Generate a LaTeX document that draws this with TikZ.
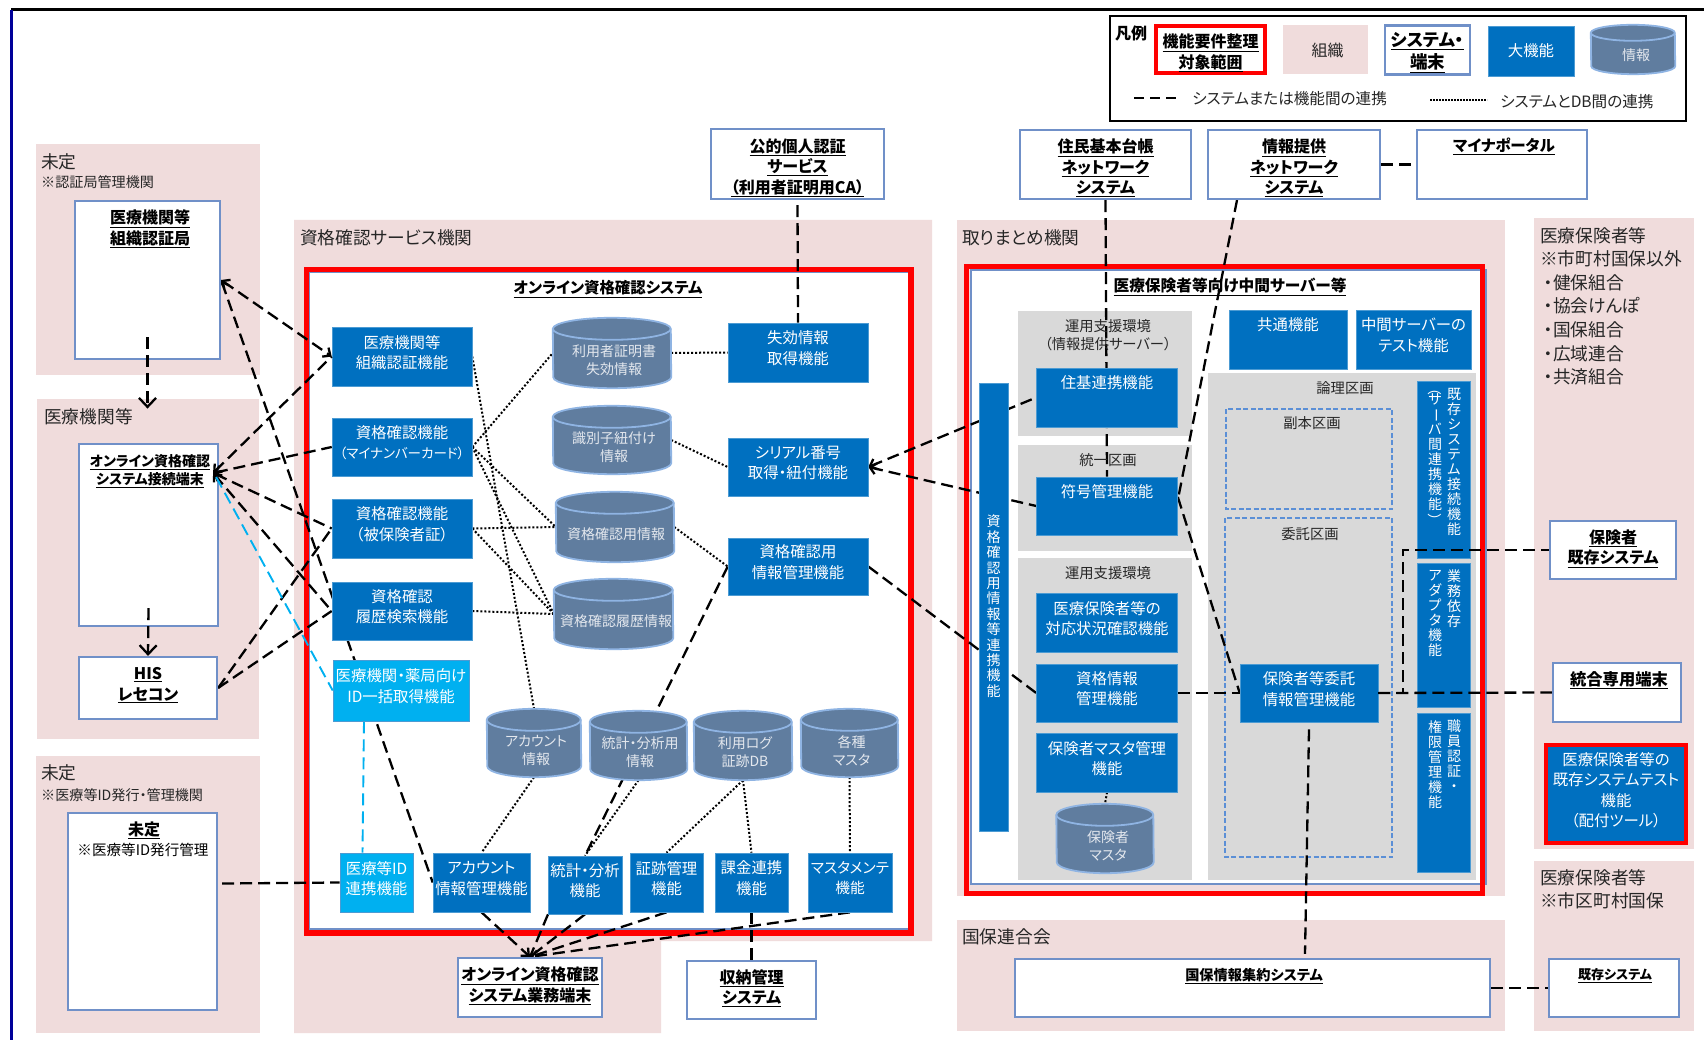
\documentclass[tikz,border=0pt]{standalone}
\usepackage{fontspec}
\setmainfont{Noto Sans CJK JP}[RawFeature={+palt}]
\usetikzlibrary{arrows.meta}

\definecolor{panelpink}{HTML}{F0DCDC}
\definecolor{funcblue}{HTML}{0070C0}
\definecolor{lightblue}{HTML}{00B0F0}
\definecolor{panelgrey}{HTML}{D9D9D9}
\definecolor{sysedge}{HTML}{7090C8}
\definecolor{dbfill}{HTML}{607D9F}
\definecolor{dbedge}{HTML}{8FB4E3}
\definecolor{zoneedge}{HTML}{5B8FD6}
\definecolor{dbtext}{HTML}{E4E8EE}

\newcommand{\vlong}{\raisebox{11pt}[11pt][3pt]{\rotatebox{-90}{ー}}}
\newcommand{\vparen}[1]{\raisebox{6pt}[6pt][1pt]{\rotatebox{-90}{#1}}}
\newcommand{\topgap}{\rule{0pt}{21pt}}
% drum of a database around its named node: name, x radius, y radius
\newcommand{\dbdrum}[3]{
    \draw[dbshape] ([yshift=-#3pt]#1.north west) arc[start angle=180,end angle=0,x radius=#2pt,y radius=#3pt]
        -- ([yshift=#3pt]#1.south east) arc[start angle=0,end angle=-180,x radius=#2pt,y radius=#3pt] -- cycle;
    \draw[dbshape,fill=none] ([yshift=-#3pt]#1.north west) arc[start angle=180,end angle=360,x radius=#2pt,y radius=#3pt];
}

\pgfdeclarelayer{panel}
\pgfdeclarelayer{wire}
\pgfsetlayers{panel,wire,main}

\tikzset{
    wh/.style 2 args={minimum width=#1pt, minimum height=#2pt},
    nudge/.style={execute at end node={\rule[-#1pt]{0pt}{#1pt}}},
    funcplain/.style={rectangle, fill=funcblue, draw=funcblue!70!white, line width=0.6pt, inner sep=0pt, text=white, align=center, font=\fontsize{15.4}{20.5}\selectfont},
    func/.style={funcplain, nudge=9.5},
    funclight/.style={func, fill=lightblue},
    sysbox/.style={rectangle, fill=white, draw=sysedge, line width=2.2pt, inner sep=0pt, align=center, font=\bfseries\fontsize{16}{20.5}\selectfont},
    systxt/.style={inner sep=0pt, align=center, font=\bfseries\fontsize{16}{20.5}\selectfont},
    dbnode/.style={rectangle, inner sep=0pt},
    dbshape/.style={fill=dbfill, draw=dbedge, line width=1.8pt},
    dbtxt/.style={inner sep=0pt, text=dbtext, align=center, font=\fontsize{14}{18}\selectfont},
    lbl/.style={inner sep=0pt, anchor=west, align=left, text=black!85, font=\fontsize{17.7}{23.6}\selectfont},
    lblsmall/.style={inner sep=0pt, anchor=west, text=black!85, font=\fontsize{14.1}{18}\selectfont},
    zonetxt/.style={inner sep=0pt, align=center, text=black!85, font=\fontsize{14.3}{18}\selectfont},
    vtxt/.style={inner sep=0pt, anchor=north, align=center, text=white, font=\fontsize{14}{15}\selectfont},
    link/.style={line width=2.3pt, dash pattern=on 12pt off 6pt, >={Straight Barb[length=6pt,width=11pt]}},
    linkbig/.style={link, >={Straight Barb[length=9pt,width=17pt]}},
    linkcyan/.style={link, line width=1.9pt, draw=lightblue},
    dbwire/.style={line width=2pt, dash pattern=on 2pt off 2pt},
    zone/.style={draw=zoneedge, line width=1.6pt, dash pattern=on 5pt off 2.5pt},
}

\begin{document}
\begin{tikzpicture}[x=1pt,y=-1pt]
    \useasboundingbox (0,0) rectangle (1704,1040);

    \begin{pgfonlayer}{panel}
        \fill[white] (0,0) rectangle (1704,1040);
        \draw[line width=3pt,black] (11,10) -- (1704,10);
        \draw[line width=3pt,blue!60!black] (11,10) -- (11,1040);
        % organisations
        \fill[panelpink] (36,144) rectangle (260,375);
        \fill[panelpink] (37,399) rectangle (259,739);
        \fill[panelpink] (36,756) rectangle (260,1033);
        \fill[panelpink] (294,220) -| (932,941) -| (661,1033) -| cycle;
        \fill[panelpink] (957,220) rectangle (1505,896);
        \fill[panelpink] (957,920) rectangle (1505,1031);
        \fill[panelpink] (1534,218) rectangle (1694,849);
        \fill[panelpink] (1534,861) rectangle (1694,1031);
        % systems in the scope
        \draw[fill=white,draw=sysedge,line width=1.6pt] (309,272) rectangle (909,929);
        \draw[red,line width=5.5pt] (306.5,269.5) rectangle (911,933);
        \draw[fill=white,draw=sysedge,line width=1.6pt] (971,270) rectangle (1486,884);
        \draw[red,line width=5pt] (966.5,267) rectangle (1482.5,893);
        % sections
        \fill[panelgrey] (1018,311) rectangle (1192,436);
        \fill[panelgrey] (1018,445) rectangle (1192,551);
        \fill[panelgrey] (1018,558) rectangle (1192,880);
        \fill[panelgrey] (1208,373) rectangle (1476,880);
        \draw[zone] (1226,409) rectangle (1392,509);
        \draw[zone] (1225,518) rectangle (1392,857);
        % legend
        \draw[fill=white,line width=2.5pt] (1110,16) rectangle (1686,121);
    \end{pgfonlayer}

    % legend
    \node[systxt] (lgdtitle) at (1131,33) {凡例};
    \node[sysbox, wh={109}{47}, draw=red, line width=4pt] (lgdscope) at (1210.5,49.5) {\topgap\underline{機能要件整理}\\\underline{対象範囲}};
    \node[rectangle, fill=panelpink, wh={85}{49}, inner sep=0pt, font=\fontsize{16}{20}\selectfont, text=black!85] (lgdorg) at (1325.5,50) {\hspace*{4pt}組織};
    \node[sysbox, wh={85}{49}, font=\bfseries\fontsize{17.5}{20.5}\selectfont] (lgdsys) at (1427.5,50) {\rule{0pt}{19pt}\underline{システム・}\\[2pt]\underline{端末}};
    \node[funcplain, wh={86}{50}] (lgdfunc) at (1531,51) {大機能};
    \node[dbnode, wh={84}{49}] (lgddb) at (1633,49.5) {};
    \dbdrum{lgddb}{42}{8}
    \node[dbtxt] (lgddbtxt) at (1636,55) {情報};
    \coordinate (lgdlinka) at (1134,98);
    \coordinate (lgdlinkb) at (1180,98);
    \draw[line width=2.3pt, dash pattern=on 10pt off 6pt] (lgdlinka) -- (lgdlinkb);
    \node[lblsmall, font=\fontsize{15.6}{18}\selectfont] (lgdlinktxt) at (1192,99) {システムまたは機能間の連携};
    \coordinate (lgddota) at (1430,100);
    \coordinate (lgddotb) at (1487,100);
    \draw[line width=1.8pt, dash pattern=on 1.6pt off 1.4pt] (lgddota) -- (lgddotb);
    \node[lblsmall, font=\fontsize{15.6}{18}\selectfont] (lgddottxt) at (1500,102) {システムとDB間の連携};

    % organisation labels
    \node[lbl] (lblca) at (41,162) {未定};
    \node[lblsmall] (lblcasub) at (41,182) {※認証局管理機関};
    \node[lbl] (lblmed) at (44,417) {医療機関等};
    \node[lbl] (lblid) at (41,773) {未定};
    \node[lblsmall] (lblidsub) at (41,795) {※医療等ID発行・管理機関};
    \node[lbl] (lblsvc) at (300,238) {資格確認サービス機関};
    \node[lbl] (lblhub) at (962,238) {取りまとめ機関};
    \node[lbl] (lblkokuho) at (962,937) {国保連合会};
    \node[lbl, anchor=north west] (lblins) at (1540,227) {医療保険者等\\※市町村国保以外\\\ ・健保組合\\\ ・協会けんぽ\\\ ・国保組合\\\ ・広域連合\\\ ・共済組合};
    \node[lbl, anchor=north west] (lblinsb) at (1540,869) {医療保険者等\\※市区町村国保};

    % outside systems
    \node[sysbox, wh={145}{158}] (caauth) at (147.5,280) {};
    \node[systxt] (caauthtxt) at (150,229) {\underline{医療機関等}\\\underline{組織認証局}};
    \node[sysbox, wh={139}{182}] (term) at (148.5,535) {};
    \node[systxt, font=\bfseries\fontsize{14}{18}\selectfont] (termtxt) at (150,471) {\underline{オンライン資格確認}\\\underline{システム接続端末}};
    \node[sysbox, wh={138}{62}, nudge=8.5] (his) at (148,688) {\underline{HIS}\\\underline{レセコン}};
    \node[sysbox, wh={149}{197}] (idmgr) at (142.5,911.5) {};
    \node[systxt] (idmgrtxt) at (144,830) {\underline{未定}};
    \node[zonetxt, text=black, font=\fontsize{14.6}{18}\selectfont] (idmgrsub) at (143,850) {※医療等ID発行管理};
    \node[sysbox, wh={144}{59}, nudge=6.5] (bizterm) at (530,987.5) {\underline{オンライン資格確認}\\\underline{システム業務端末}};
    \node[sysbox, wh={129}{58}, nudge=6.5] (shuno) at (751.5,990) {\underline{収納管理}\\\underline{システム}};
    \node[sysbox, wh={173}{70}] (pki) at (797.5,164) {\topgap\underline{公的個人認証}\\\underline{サービス}\\\underline{（利用者証明用CA）}};
    \node[sysbox, wh={171}{69}] (jukinet) at (1105.5,164.5) {\topgap\underline{住民基本台帳}\\\underline{ネットワーク}\\\underline{システム}};
    \node[sysbox, wh={172}{69}] (infonet) at (1294,164.5) {\topgap\underline{情報提供}\\\underline{ネットワーク}\\\underline{システム}};
    \node[sysbox, wh={170}{69}] (portal) at (1502,164.5) {};
    \node[systxt, font=\bfseries\fontsize{15.5}{18}\selectfont] (portaltxt) at (1504,146) {\underline{マイナポータル}};
    \node[sysbox, wh={126}{58}, nudge=6.5] (legacy) at (1613,550) {\underline{保険者}\\\underline{既存システム}};
    \node[sysbox, wh={128}{59}] (integ) at (1617,692.5) {};
    \node[systxt, font=\bfseries\fontsize{16.3}{18}\selectfont] (integtxt) at (1619,680) {\underline{統合専用端末}};
    \node[sysbox, wh={475}{58}] (kokuho) at (1252.5,988) {};
    \node[systxt, font=\bfseries\fontsize{14.2}{18}\selectfont] (kokuhotxt) at (1254,976) {\underline{国保情報集約システム}};
    \node[sysbox, wh={130}{58}] (kizon) at (1614,988) {};
    \node[systxt, font=\bfseries\fontsize{13}{18}\selectfont] (kizontxt) at (1615,976) {\underline{既存システム}};

    % online system
    \node[systxt, font=\bfseries\fontsize{15.4}{18}\selectfont] (onlinetxt) at (608,289) {\underline{オンライン資格確認システム}};
    \node[func, wh={140}{59}] (orgauth) at (402,356.5) {医療機関等\\組織認証機能};
    \node[func, wh={140}{58}] (mnacard) at (402,447) {資格確認機能\\{\fontsize{13.5}{20.5}\selectfont（マイナンバーカード）}};
    \node[func, wh={140}{59}] (hihoken) at (402,528.5) {資格確認機能\\（被保険者証）};
    \node[func, wh={140}{58}] (histsearch) at (402,611) {資格確認\\履歴検索機能};
    \node[funclight, wh={136}{61}] (idbulk) at (401,690.5) {医療機関・薬局向け\\ID一括取得機能};
    \node[func, wh={140}{59}] (revoke) at (798,352.5) {失効情報\\取得機能};
    \node[func, wh={140}{58}] (serial) at (798,467) {シリアル番号\\取得・紐付機能};
    \node[func, wh={140}{57}] (elig) at (798,566.5) {資格確認用\\情報管理機能};
    \node[funclight, wh={73}{59}] (medid) at (376.5,882.5) {医療等ID\\連携機能};
    \node[func, wh={97}{59}] (acctmgmt) at (481.5,882.5) {アカウント\\情報管理機能};
    \node[func, wh={74}{58}] (statfn) at (585,885) {統計・分析\\機能};
    \node[func, wh={73}{59}] (trail) at (666.5,882.5) {証跡管理\\機能};
    \node[func, wh={73}{59}] (billing) at (751.5,882.5) {課金連携\\機能};
    \node[func, wh={84}{59}, font=\fontsize{14.7}{20.5}\selectfont] (mastmnt) at (850,882.5) {マスタメンテ\\機能};

    \node[dbnode, wh={118}{70}] (certdb) at (612,353) {};
    \dbdrum{certdb}{59}{11}
    \node[dbtxt] (certtxt) at (614,360) {利用者証明書\\失効情報};
    \node[dbnode, wh={118}{68}] (iddb) at (612,440) {};
    \dbdrum{iddb}{59}{11}
    \node[dbtxt] (idtxt) at (614,447) {識別子紐付け\\情報};
    \node[dbnode, wh={118}{70}] (qualdb) at (615,527) {};
    \dbdrum{qualdb}{59}{11}
    \node[dbtxt] (qualtxt) at (616,534) {資格確認用情報};
    \node[dbnode, wh={119}{70}] (histdb) at (613.5,614) {};
    \dbdrum{histdb}{59.5}{11}
    \node[dbtxt] (histtxt) at (616,621) {資格確認履歴情報};
    \node[dbnode, wh={94}{68}] (acctdb) at (534,743) {};
    \dbdrum{acctdb}{47}{11}
    \node[dbtxt] (accttxt) at (536,750.5) {アカウント\\情報};
    \node[dbnode, wh={97}{69}] (statdb) at (638.5,745.5) {};
    \dbdrum{statdb}{48.5}{11}
    \node[dbtxt] (stattxt) at (640,752) {統計・分析用\\情報};
    \node[dbnode, wh={98}{69}] (logdb) at (743,745.5) {};
    \dbdrum{logdb}{49}{11}
    \node[dbtxt] (logtxt) at (745,752.5) {利用ログ\\証跡DB};
    \node[dbnode, wh={97}{68}] (mastdb) at (849.5,743) {};
    \dbdrum{mastdb}{48.5}{11}
    \node[dbtxt] (masttxt) at (851.5,750.5) {各種\\マスタ};

    % intermediate server
    \node[systxt, font=\bfseries\fontsize{15.7}{18}\selectfont] (hubtxt) at (1230,287) {\underline{医療保険者等向け中間サーバー等}};
    \node[zonetxt] (opstxt) at (1108,335) {運用支援環境\\（情報提供サーバー）};
    \node[zonetxt] (unitxt) at (1108,460) {統一区画};
    \node[zonetxt] (opsbtxt) at (1108,573) {運用支援環境};
    \node[zonetxt] (logictxt) at (1345,388) {論理区画};
    \node[zonetxt] (copytxt) at (1312,423) {副本区画};
    \node[zonetxt] (consigntxt) at (1310,534) {委託区画};
    \node[func, wh={141}{59}] (jukifn) at (1107,397.5) {住基連携機能\\\ };
    \node[func, wh={141}{58}] (symfn) at (1107,506) {符号管理機能\\\ };
    \node[func, wh={141}{59}] (statusfn) at (1107,622.5) {医療保険者等の\\対応状況確認機能};
    \node[func, wh={141}{58}] (qualfn) at (1107,693) {資格情報\\管理機能};
    \node[func, wh={141}{59}] (mastfn) at (1107,762.5) {保険者マスタ管理\\機能};
    \node[dbnode, wh={97}{69}] (insdb) at (1105,838.5) {};
    \dbdrum{insdb}{48.5}{11}
    \node[dbtxt] (instxt) at (1108,846) {保険者\\マスタ};
    \node[func, wh={118}{59}] (commonfn) at (1288,339.5) {共通機能\\\ };
    \node[func, wh={115}{59}] (testfn) at (1413.5,339.5) {中間サーバーの\\テスト機能};
    \node[func, wh={138}{58}] (consign) at (1309,693) {保険者等委託\\情報管理機能};
    \node[func, wh={140}{98}, draw=red, line width=4pt] (disttool) at (1616,794) {医療保険者等の\\既存システムテスト\\機能\\（配付ツール）};

    % vertical bars
    \node[funcplain, wh={29}{448}] (linkbar) at (993.5,607) {};
    \node[vtxt, font=\fontsize{14}{15.4}\selectfont] (linkbartxt) at (993.5,515) {資\\格\\確\\認\\用\\情\\報\\等\\連\\携\\機\\能};
    \node[funcplain, wh={53}{177}] (sysconn) at (1444,469.5) {};
    \node[vtxt] (sysconna) at (1454,388) {既\\存\\シ\\ス\\テ\\ム\\接\\続\\機\\能};
    \node[vtxt] (sysconnb) at (1435,388) {\vparen{（}\\[-5pt]サ\\\vlong\\バ\\間\\連\\携\\機\\能\\[-4pt]\vparen{）}};
    \node[funcplain, wh={53}{144}] (adapter) at (1444,635) {};
    \node[vtxt] (adaptera) at (1454,570) {業\\務\\依\\存};
    \node[vtxt] (adapterb) at (1435,570) {ア\\ダ\\プ\\タ\\機\\能};
    \node[funcplain, wh={53}{159}] (staffauth) at (1444,792.5) {};
    \node[vtxt] (staffautha) at (1454,720) {職\\員\\認\\証\\・};
    \node[vtxt] (staffauthb) at (1435,720) {権\\限\\管\\理\\機\\能};

    \begin{pgfonlayer}{wire}
        % dashed connectors
        \draw[link,<->] (caauth.east) -- (orgauth.west);
        \draw[link,<-] (caauth.east) -- (acctmgmt.west);
        \draw[link] (his.east) -- (hihoken.west);
        \draw[link] (his.east) -- (histsearch.west);
        \draw[linkcyan] ([xshift=-37pt]idbulk.south) -- ([xshift=-14pt]medid.north);
        \draw[link] ([xshift=4pt,yshift=28pt]idmgr.east) -- (medid.west);
        \draw[link] ([yshift=-5pt]pki.south) -- (revoke.north);
        \draw[link,<-] (serial.east) -- (jukifn.west);
        \draw[link,<-] (serial.east) -- (symfn.west);
        \draw[link] (elig.east) -- (qualfn.west);
        \draw[link] (elig.west) -- (statfn.north);
        \draw[link] (jukinet.south) -- (symfn.north);
        \draw[link] ([xshift=-57pt]infonet.south) -- ([yshift=6pt]symfn.east);
        \draw[link] ([yshift=9pt]symfn.east) -- (consign.west);
        \draw[link] (qualfn.east) -- (consign.west);
        \draw[link] (infonet.east) -- (portal.west);
        \draw[link] (kokuho.east) -- (kizon.west);
        \draw[link] (billing.south) -- (shuno.north);
        \draw[link,->] (acctmgmt.south) -- (bizterm.north);
        \draw[link] ([xshift=-37pt]statfn.south) -- (bizterm.north);
        \draw[link] (statfn.south) -- (bizterm.north);
        \draw[link] (trail.south) -- (bizterm.north);
        \draw[link,->] (mastmnt.south) -- (bizterm.north);
        % dotted connectors to the databases
        \draw[dbwire] (orgauth.east) -- (acctdb.north);
        \draw[dbwire] (mnacard.east) -- (certdb.west);
        \draw[dbwire] (mnacard.east) -- (qualdb.west);
        \draw[dbwire] (mnacard.east) -- (histdb.west);
        \draw[dbwire] (hihoken.east) -- (qualdb.west);
        \draw[dbwire] (hihoken.east) -- (histdb.west);
        \draw[dbwire] (histsearch.east) -- (histdb.west);
        \draw[dbwire] (certdb.east) -- (revoke.west);
        \draw[dbwire] (iddb.east) -- (serial.west);
        \draw[dbwire] (qualdb.east) -- (elig.west);
        \draw[dbwire] (acctdb.south) -- (acctmgmt.north);
        \draw[dbwire] (statdb.south) -- (statfn.north);
        \draw[dbwire] (logdb.south) -- (trail.north);
        \draw[dbwire] (logdb.south) -- (billing.north);
        \draw[dbwire] (mastdb.south) -- (mastmnt.north);
        \draw[dbwire] (mastfn.south) -- (insdb.north);
    \end{pgfonlayer}

    % these run over the boxes
    \draw[link,<-] ([xshift=-6pt,yshift=62pt]term.east) -- (orgauth.west);
    \draw[link,<-] ([xshift=-6pt,yshift=62pt]term.east) -- (mnacard.west);
    \draw[link,<-] ([xshift=-6pt,yshift=62pt]term.east) -- (hihoken.west);
    \draw[link,<-] ([xshift=-6pt,yshift=62pt]term.east) -- (histsearch.west);
    \draw[linkcyan] ([xshift=-3pt,yshift=58pt]term.east) -- (idbulk.west);
    \draw[linkbig,->] ([yshift=23pt]caauth.south) -- (caauth.south |- lblmed.north);
    \draw[linkbig,->] ([yshift=19pt]term.south) -- (his.north);
    \draw[link] (consign.east) -- (integ.west);
    \draw[link] (consign.east) -- ++(25,0) |- (legacy.west);
    \draw[link] ([yshift=-7pt]consign.south) -- ([xshift=-4pt,yshift=4pt]kokuho.north -| consign.south);
\end{tikzpicture}
\end{document}
